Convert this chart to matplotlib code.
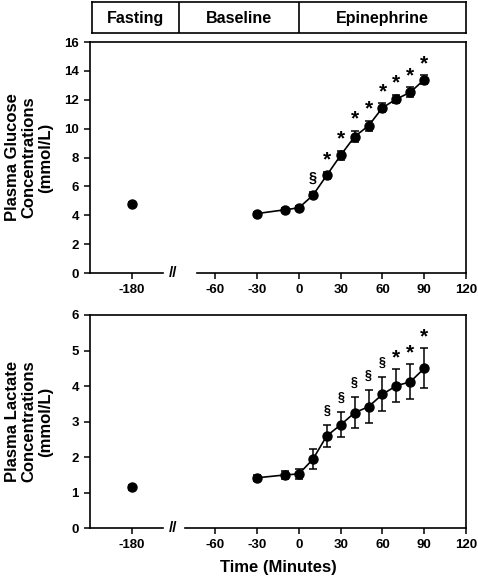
import matplotlib
matplotlib.use("Agg")
import numpy as np
import matplotlib.pyplot as plt

plt.rcParams["font.family"] = ["Liberation Sans", "DejaVu Sans"]
plt.rcParams["font.weight"] = "bold"

# time points (minutes); the fasting sample at -180 sits left of the axis break
fast_t = -180
tempos = [-30, -10, 0, 10, 20, 30, 40, 50, 60, 70, 80, 90]

glic_fast, glic_fast_err = 4.8, 0.12
glicose = [4.12, 4.38, 4.52, 5.38, 6.77, 8.16, 9.45, 10.2, 11.45, 12.05, 12.52, 13.4]
glicose_err = [0.12, 0.12, 0.15, 0.2, 0.25, 0.3, 0.4, 0.35, 0.3, 0.3, 0.35, 0.3]
glicose_sig = ["", "", "", "§", "*", "*", "*", "*", "*", "*", "*", "*"]

lact_fast, lact_fast_err = 1.15, 0.08
lactato = [1.42, 1.5, 1.53, 1.94, 2.6, 2.91, 3.25, 3.42, 3.77, 4.01, 4.12, 4.5]
lactato_err = [0.08, 0.1, 0.15, 0.28, 0.31, 0.35, 0.43, 0.47, 0.48, 0.46, 0.49, 0.56]
lactato_sig = ["", "", "", "", "§", "§", "§", "§", "§", "*", "*", "*"]

xticks_lbl = ["-180", "-60", "-30", "0", "30", "60", "90", "120"]
fases = ["Fasting", "Baseline", "Epinephrine"]

# the broken axis: -180 is drawn at -120 on the plotting scale
DESLOC = 60
XMIN, XMAX = -150, 120
xticks_pos = [fast_t + DESLOC, -60, -30, 0, 30, 60, 90, 120]
limites_fase = [XMIN, -85.5, 0.5, XMAX]


def painel(ax, fast_v, fast_e, vals, errs, sigs, ymax, ystep, ylabel, gap, sec_size):
    kw = dict(fmt="o", color="black", ms=6.5, capsize=2.8, elinewidth=1.1,
              capthick=1.1, zorder=3)
    ax.errorbar([fast_t + DESLOC], [fast_v], yerr=[fast_e], **kw)
    ax.errorbar(tempos, vals, yerr=errs, fmt="o-", color="black", ms=6.5,
                lw=1.2, capsize=2.8, elinewidth=1.1, capthick=1.1, zorder=3)
    for t, v, e, s in zip(tempos, vals, errs, sigs):
        if s == "*":
            ax.annotate(s, (t, v + e), xytext=(0, 4.5), textcoords="offset points",
                        ha="center", va="baseline", fontsize=15, fontweight="bold")
        elif s:
            ax.annotate(s, (t, v + e), xytext=(0, 8), textcoords="offset points",
                        ha="center", va="baseline", fontsize=sec_size, fontweight="bold")
    ax.set_xlim(XMIN, XMAX)
    ax.set_ylim(0, ymax)
    ax.set_yticks(np.arange(0, ymax + 0.01, ystep))
    ax.set_xticks(xticks_pos)
    ax.set_xticklabels(xticks_lbl)
    ax.tick_params(direction="out", length=4, width=1.1, labelsize=9.5, pad=4)
    for sp in ["left", "right", "top"]:
        ax.spines[sp].set_linewidth(1.2)
    ax.spines["bottom"].set_visible(False)
    trans = ax.get_xaxis_transform()
    ax.plot([XMIN, gap[0]], [0, 0], color="black", lw=1.2, transform=trans, clip_on=False)
    ax.plot([gap[1], XMAX], [0, 0], color="black", lw=1.2, transform=trans, clip_on=False)
    ax.text(-90.5, 0, "//", transform=trans, ha="center", va="center",
            fontsize=11, fontweight="bold")
    ax.set_ylabel(ylabel, fontsize=12, fontweight="bold", linespacing=1.15, va="center")
    ax.yaxis.set_label_coords(-0.162, 0.5)


fig = plt.figure(figsize=(4.78, 5.86), dpi=100)
ax1 = fig.add_axes([0.1883, 0.5341, 0.7867, 0.3942])
ax2 = fig.add_axes([0.1883, 0.0985, 0.7867, 0.364])

painel(ax1, glic_fast, glic_fast_err, glicose, glicose_err, glicose_sig, 16, 2,
       "Plasma Glucose\nConcentrations\n(mmol/L)", (-97.7, -73.3), 10.5)
painel(ax2, lact_fast, lact_fast_err, lactato, lactato_err, lactato_sig, 6, 1,
       "Plasma Lactate\nConcentrations\n(mmol/L)", (-97.7, -82), 9)
ax2.set_xlabel("Time (Minutes)", fontsize=12, fontweight="bold", labelpad=6)

# header boxes
axh = fig.add_axes([0.1925, 0.9437, 0.7825, 0.053])
axh.set_xlim(-147.5, XMAX)
axh.set_ylim(0, 1)
axh.set_xticks([])
axh.set_yticks([])
for sp in axh.spines.values():
    sp.set_linewidth(1.2)
for xb in limites_fase[1:-1]:
    axh.axvline(xb, color="black", lw=1.2)
bordas = [-147.5] + limites_fase[1:]
for i, nome in enumerate(fases):
    axh.text((bordas[i] + bordas[i + 1]) / 2, 0.48, nome, ha="center", va="center",
             fontsize=11.5, fontweight="bold")

fig.savefig("out.png", dpi=100)
